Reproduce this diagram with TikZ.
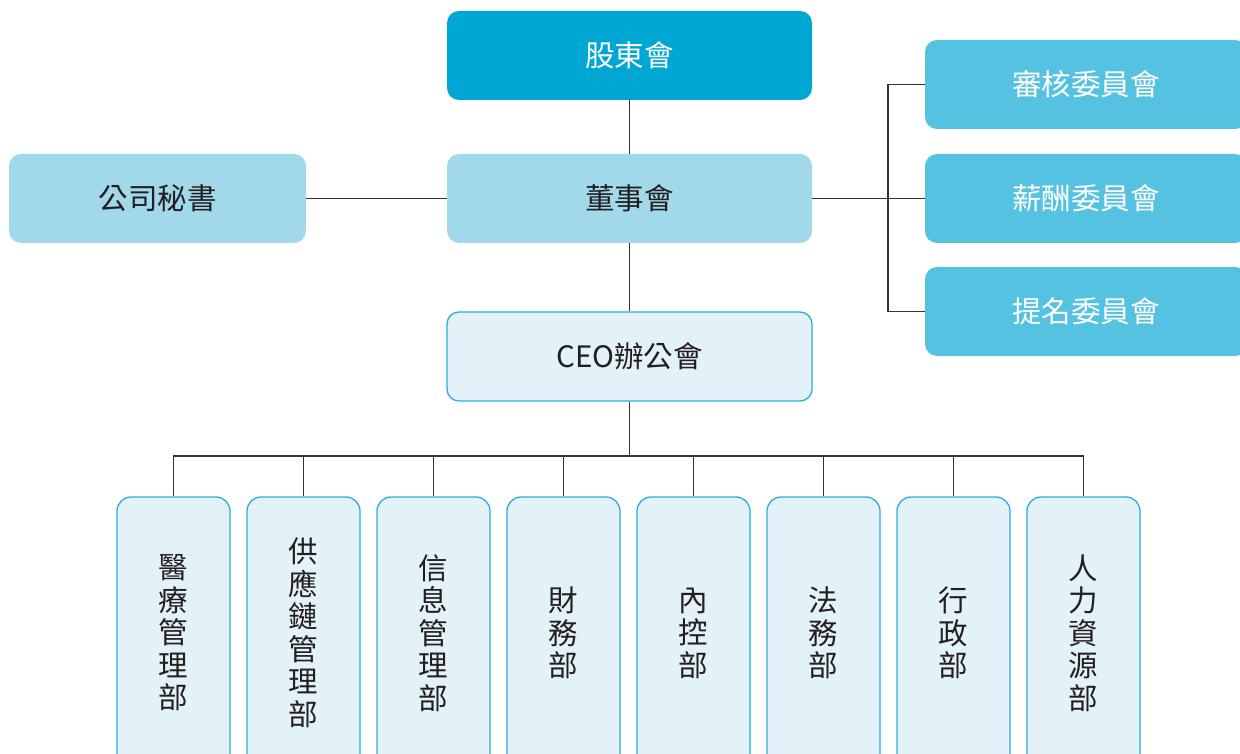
\documentclass[tikz,border=0pt]{standalone}
\usepackage{fontspec}
\setmainfont{Noto Sans CJK TC}
\definecolor{cdark}{HTML}{00A7D3}
\definecolor{clight}{HTML}{A1D9EB}
\definecolor{cmid}{HTML}{56C2E1}
\definecolor{cpale}{HTML}{E3F2F8}
\definecolor{cborder}{HTML}{2AAEDA}
\definecolor{ctext}{HTML}{231F20}
\definecolor{cline}{HTML}{333333}
\begin{document}
\begin{tikzpicture}[x=1pt,y=-1pt,
  box/.style={rectangle,rounded corners=12pt,minimum width=365pt,minimum height=89pt,inner sep=0pt,font=\fontsize{29.5}{33}\selectfont},
  topbox/.style={box,fill=cdark,text=white},
  boardbox/.style={box,fill=clight,text=ctext},
  combox/.style={box,fill=cmid,text=white,minimum width=322pt},
  ceobox/.style={box,fill=cpale,draw=cborder,line width=1.3pt,text=ctext},
  deptbox/.style={rectangle,rounded corners=14pt,minimum width=113pt,minimum height=272pt,inner sep=0pt,fill=cpale,draw=cborder,line width=1.3pt,text=ctext,align=center,font=\fontsize{29.5}{32.5}\selectfont},
  conn/.style={draw=cline,line width=1.2pt}]
\useasboundingbox (0,0) rectangle (1240,754);
\clip (0,0) rectangle (1240,754);
\fill[white] (0,0) rectangle (1240,754);

\node[topbox] (gd) at (629.5,55.5) {股東會};
\node[boardbox] (ds) at (629.5,198.5) {董事會};
\node[boardbox,minimum width=297pt] (ms) at (157.5,198.5) {公司秘書};
\node[ceobox] (ceo) at (629.5,356.5) {CEO辦公會};
\node[combox] (c1) at (1086,84.5) {審核委員會};
\node[combox] (c2) at (1086,198.5) {薪酬委員會};
\node[combox] (c3) at (1086,311.5) {提名委員會};

\node[deptbox] (d1) at (173.5,633) {醫\\療\\管\\理\\部};
\node[deptbox] (d2) at (303.5,633) {供\\應\\鏈\\管\\理\\部};
\node[deptbox] (d3) at (433.5,633) {信\\息\\管\\理\\部};
\node[deptbox] (d4) at (563.5,633) {財\\務\\部};
\node[deptbox] (d5) at (693.5,633) {內\\控\\部};
\node[deptbox] (d6) at (823.5,633) {法\\務\\部};
\node[deptbox] (d7) at (953.5,633) {行\\政\\部};
\node[deptbox] (d8) at (1083.5,633) {人\\力\\資\\源\\部};

\coordinate (jr) at (888,198.5);
\coordinate (jb) at (629.5,456);

\draw[conn] (gd.south) -- (ds.north);
\draw[conn] (ds.south) -- (ceo.north);
\draw[conn] (ms.east) -- (ds.west);
\draw[conn] (ds.east) -- (jr);
\draw[conn] (jr) |- (c1.west);
\draw[conn] (jr) -- (c2.west);
\draw[conn] (jr) |- (c3.west);
\draw[conn] (ceo.south) -- (jb);
\foreach \d in {d1,d2,d3,d4,d5,d6,d7,d8}{
  \draw[conn] (jb) -| (\d.north);
}
\end{tikzpicture}
\end{document}
